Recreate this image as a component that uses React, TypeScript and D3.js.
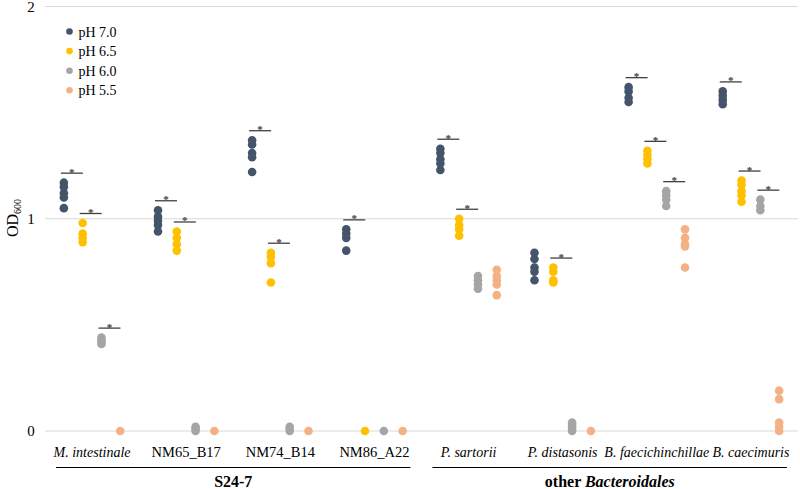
import React from "react";
import * as d3 from "d3";

const categories = [
  "M. intestinale",
  "NM65_B17",
  "NM74_B14",
  "NM86_A22",
  "P. sartorii",
  "P. distasonis",
  "B. faecichinchillae",
  "B. caecimuris",
];
const italicCats = [true, false, false, false, true, true, true, true];

const seriesNames = ["pH 7.0", "pH 6.5", "pH 6.0", "pH 5.5"];
const seriesColors = ["#44546A", "#FFC000", "#A5A5A5", "#F4B183"];

const ph70 = [
  [1.17, 1.15, 1.12, 1.1, 1.05],
  [1.04, 1.01, 0.99, 0.97, 0.94],
  [1.37, 1.35, 1.31, 1.29, 1.22],
  [0.95, 0.93, 0.91, 0.85],
  [1.33, 1.31, 1.28, 1.26, 1.23],
  [0.84, 0.81, 0.77, 0.75, 0.71],
  [1.62, 1.6, 1.57, 1.55],
  [1.6, 1.58, 1.56, 1.54],
];
const ph65 = [
  [0.98, 0.93, 0.91, 0.89],
  [0.94, 0.91, 0.88, 0.85],
  [0.84, 0.82, 0.79, 0.7],
  [0.0],
  [1.0, 0.97, 0.95, 0.92],
  [0.77, 0.75, 0.71, 0.7],
  [1.32, 1.3, 1.28, 1.26],
  [1.18, 1.16, 1.13, 1.11, 1.08],
];
const ph60 = [
  [0.44, 0.43, 0.42, 0.41],
  [0.02, 0.01, 0.0],
  [0.02, 0.01, 0.0],
  [0.0],
  [0.73, 0.71, 0.69, 0.67],
  [0.04, 0.03, 0.02, 0.01, 0.0],
  [1.13, 1.11, 1.09, 1.06],
  [1.09, 1.06, 1.04],
];
const ph55 = [
  [0.0],
  [0.0],
  [0.0],
  [0.0],
  [0.76, 0.73, 0.71, 0.69, 0.64],
  [0.0],
  [0.95, 0.91, 0.88, 0.87, 0.77],
  [0.19, 0.15, 0.04, 0.02, 0.0],
];
const seriesData = [ph70, ph65, ph60, ph55];

// significance markers (per category, per series)
const sig70 = [true, true, true, true, true, false, true, true];
const sig65 = [true, true, true, false, true, true, true, true];
const sig60 = [true, false, false, false, false, false, true, true];
const sig55 = [false, false, false, false, false, false, false, false];
const sigData = [sig70, sig65, sig60, sig55];

const yTicks = [0, 1, 2];

const groups = [
  { label: "S24-7", from: 0, to: 3, italicPart: "" },
  { label: "other ", from: 4, to: 7, italicPart: "Bacteroidales" },
];

const W = 800;
const H = 489;

export default function App() {
  const x = d3.scaleBand<string>().domain(categories).range([45, 798]).padding(0);
  const inner = d3.scalePoint<string>().domain(seriesNames).range([-28.2, 28.2]);
  const y = d3.scaleLinear().domain([0, 2]).range([431, 6.5]);
  const font = '"Liberation Serif", "Times New Roman", serif';
  const r = 4.3;
  const dark = "#404040";

  return (
    <svg
      width={W}
      height={H}
      style={{ position: "absolute", left: 0, top: 0, background: "#fff", fontFamily: font }}
    >
      {/* grid */}
      {yTicks.map((t) => (
        <g key={t}>
          <line x1={45} x2={798} y1={y(t)} y2={y(t)} stroke="#D9D9D9" strokeWidth={1} />
          <text x={31} y={y(t) + 5} fontSize={15} textAnchor="middle" fill="#000" style={{ fontFamily: font }}>
            {t}
          </text>
        </g>
      ))}
      {/* y label */}
      <text
        transform={`translate(18, ${218}) rotate(-90)`}
        textAnchor="middle"
        fontSize={16}
        fill="#000"
        style={{ fontFamily: font }}
      >
        OD<tspan fontSize={10} dy={3}>600</tspan>
      </text>

      {/* points */}
      {seriesData.map((data, si) =>
        data.map((vals, ci) => {
          const cx = (x(categories[ci]) as number) + x.bandwidth() / 2 + (inner(seriesNames[si]) as number);
          const by = y(d3.max(vals) as number) - 9.5;
          return (
            <g key={`${si}-${ci}`}>
              {vals.map((v, k) => (
                <circle key={k} cx={cx} cy={y(v)} r={r} fill={seriesColors[si]} />
              ))}
              {sigData[si][ci] && (
                <g>
                  <line x1={cx - 3} x2={cx + 19} y1={by} y2={by} stroke={dark} strokeWidth={1.3} />
                  <text x={cx + 8} y={by + 2.5} fontSize={11} fontWeight="bold" textAnchor="middle" fill={dark} style={{ fontFamily: font }}>
                    *
                  </text>
                </g>
              )}
            </g>
          );
        })
      )}

      {/* category labels */}
      {categories.map((c, i) => (
        <text
          key={c}
          x={(x(c) as number) + x.bandwidth() / 2}
          y={457}
          fontSize={italicCats[i] ? 14 : 14.5}
          textAnchor="middle"
          fontStyle={italicCats[i] ? "italic" : "normal"}
          fill="#000"
          style={{ fontFamily: font }}
        >
          {c}
        </text>
      ))}

      {/* group labels */}
      {groups.map((g) => {
        const x0 = (x(categories[g.from]) as number) + 11;
        const x1 = (x(categories[g.to]) as number) + x.bandwidth() - 11;
        return (
          <g key={g.label}>
            <line x1={x0} x2={x1} y1={467.5} y2={467.5} stroke="#000" strokeWidth={1.2} />
            <text
              x={(x0 + x1) / 2}
              y={487}
              fontSize={16}
              fontWeight="bold"
              textAnchor="middle"
              fill="#000"
              style={{ fontFamily: font }}
            >
              {g.label}
              {g.italicPart && <tspan fontStyle="italic">{g.italicPart}</tspan>}
            </text>
          </g>
        );
      })}

      {/* legend */}
      {seriesNames.map((s, i) => (
        <g key={s} transform={`translate(69.5, ${31.5 + i * 19.6})`}>
          <circle cx={0} cy={0} r={3.3} fill={seriesColors[i]} />
          <text x={9} y={5} fontSize={14} fill="#000" style={{ fontFamily: font }}>
            {s}
          </text>
        </g>
      ))}
    </svg>
  );
}
